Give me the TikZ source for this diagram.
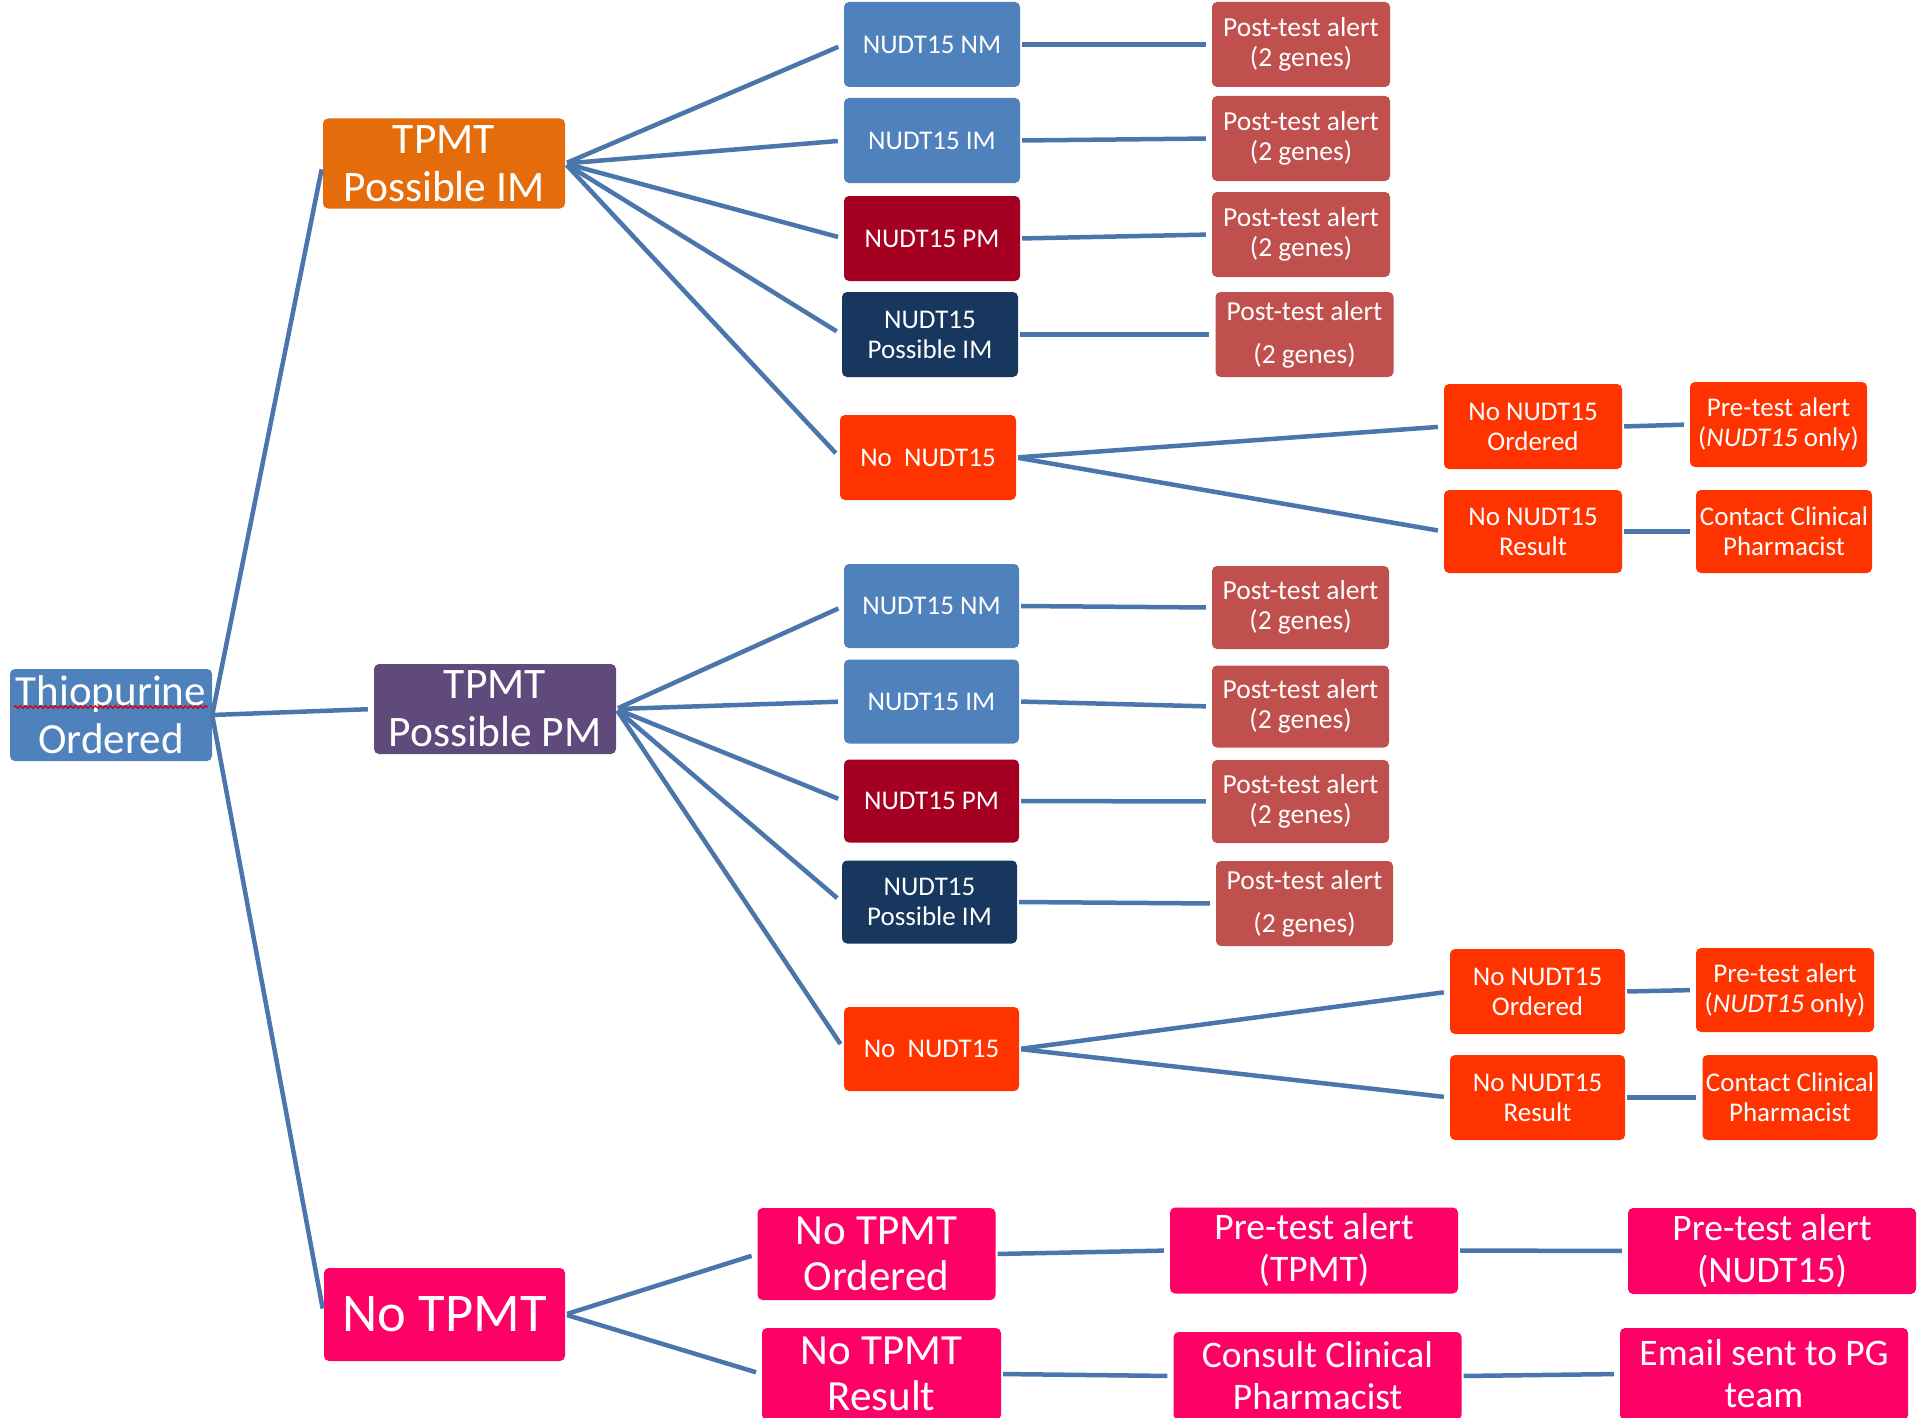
\documentclass[tikz,border=0pt]{standalone}
\usepackage{fontspec}
\setmainfont{Carlito}
\usetikzlibrary{decorations.pathmorphing}
\definecolor{cthio}{HTML}{4F81BD}
\definecolor{corange}{HTML}{E46C0A}
\definecolor{cpurple}{HTML}{604A7B}
\definecolor{cpink}{HTML}{FF0066}
\definecolor{cnavy}{HTML}{17375E}
\definecolor{cdred}{HTML}{A50021}
\definecolor{cro}{HTML}{FF3300}
\definecolor{cpost}{HTML}{C0504D}
\definecolor{clink}{HTML}{4A76AC}
\begin{document}
\begin{tikzpicture}[x=1pt,y=-1pt,
  box/.style={rectangle, rounded corners=5pt, text=white, inner sep=0pt, align=center},
  tpmtbox/.style={box, minimum width=242pt, minimum height=90pt, font=\fontsize{43.5}{48}\selectfont},
  nud/.style={box, minimum width=176pt, minimum height=85pt, font=\fontsize{27}{30}\selectfont},
  post/.style={box, fill=cpost, minimum width=178pt, minimum height=85pt, font=\fontsize{27.5}{30}\selectfont},
  postwide/.style={post, font=\fontsize{27.5}{43}\selectfont},
  orbox/.style={nud, fill=cro, minimum width=178pt},
  botl/.style={box, fill=cpink, minimum width=238pt, minimum height=92pt, font=\fontsize{43}{46}\selectfont},
  bot/.style={box, fill=cpink, minimum width=288pt, minimum height=86pt, font=\fontsize{37.5}{42}\selectfont},
  conn/.style={draw=clink, line width=4.5pt, shorten >=6pt, shorten <=2pt}
]
\fill[white] (0,0) rectangle (1921,1418);
\useasboundingbox (0,0) rectangle (1921,1418);

% root and first level
\node[box, fill=cthio, minimum width=202pt, minimum height=92pt, font=\fontsize{43}{48}\selectfont] (thio) at (111,715) {Thiopurine\\Ordered};
\node[tpmtbox, fill=corange] (tpmtIM) at (444,163.5) {TPMT\\Possible IM};
\node[tpmtbox, fill=cpurple] (tpmtPM) at (495,709) {TPMT\\Possible PM};
\node[box, fill=cpink, minimum width=241pt, minimum height=93pt, font=\fontsize{54.5}{56}\selectfont] (notpmt) at (444.5,1314.5) {No TPMT};

% spell-check squiggle
\draw[red!85!black, line width=1.3pt, decorate, decoration={snake, amplitude=1.2pt, segment length=5pt}] (14,707) -- (208,707);

% group 1 (TPMT possible IM)
\node[nud, fill=cthio] (n1nm) at (932,44.5) {NUDT15 NM};
\node[nud, fill=cthio] (n1im) at (932,140.5) {NUDT15 IM};
\node[nud, fill=cdred] (n1pm) at (932,238.5) {NUDT15 PM};
\node[nud, fill=cnavy] (n1pim) at (930,334.5) {NUDT15\\Possible IM};
\node[nud, fill=cro] (n1no) at (928,457.5) {No~~NUDT15};
\node[post] (p1a) at (1301,44.5) {Post-test alert\\(2 genes)};
\node[post] (p1b) at (1301,138.5) {Post-test alert\\(2 genes)};
\node[post] (p1c) at (1301,234.5) {Post-test alert\\(2 genes)};
\node[postwide] (p1d) at (1304.5,334.5) {Post-test alert\\(2 genes)};
\node[orbox] (o1a) at (1533,426.5) {No NUDT15\\Ordered};
\node[orbox, minimum width=177pt] (o1b) at (1778.5,424.5) {Pre-test alert\\(\textit{NUDT15} only)};
\node[orbox, minimum height=83pt] (r1a) at (1533,531.5) {No NUDT15\\Result};
\node[orbox, minimum width=176pt, minimum height=83pt] (r1b) at (1784,531.5) {Contact Clinical\\Pharmacist};

% group 2 (TPMT possible PM)
\node[nud, fill=cthio, minimum width=175pt, minimum height=84pt] (n2nm) at (931.5,606) {NUDT15 NM};
\node[nud, fill=cthio, minimum width=175pt, minimum height=84pt] (n2im) at (931.5,701.5) {NUDT15 IM};
\node[nud, fill=cdred, minimum width=175pt, minimum height=83pt] (n2pm) at (931.5,801) {NUDT15 PM};
\node[nud, fill=cnavy, minimum width=175pt, minimum height=83pt] (n2pim) at (929.5,902) {NUDT15\\Possible IM};
\node[nud, fill=cro, minimum width=175pt, minimum height=84pt] (n2no) at (931.5,1049) {No~~NUDT15};
\node[post, minimum width=177pt, minimum height=83pt] (p2a) at (1300.5,607.5) {Post-test alert\\(2 genes)};
\node[post, minimum width=177pt, minimum height=82pt] (p2b) at (1300.5,706.5) {Post-test alert\\(2 genes)};
\node[post, minimum width=177pt, minimum height=83pt] (p2c) at (1300.5,801.5) {Post-test alert\\(2 genes)};
\node[postwide, minimum width=177pt] (p2d) at (1304.5,903.5) {Post-test alert\\(2 genes)};
\node[orbox, minimum width=175pt] (o2a) at (1537.5,991.5) {No NUDT15\\Ordered};
\node[orbox, minimum width=178pt, minimum height=84pt] (o2b) at (1785,990) {Pre-test alert\\(\textit{NUDT15} only)};
\node[orbox, minimum width=175pt] (r2a) at (1537.5,1097.5) {No NUDT15\\Result};
\node[orbox, minimum width=175pt] (r2b) at (1790,1097.5) {Contact Clinical\\Pharmacist};

% group 3 (No TPMT)
\node[botl] (bo1) at (876.5,1254) {No TPMT\\Ordered};
\node[bot] (bo2) at (1314,1250.5) {Pre-test alert\\(TPMT)};
\node[bot] (bo3) at (1772,1251) {Pre-test alert\\(NUDT15)};
\node[botl, minimum width=239pt] (br1) at (881.5,1374) {No TPMT\\Result};
\node[bot, minimum height=88pt] (br2) at (1317.5,1376) {Consult Clinical\\Pharmacist};
\node[bot, minimum height=92pt] (br3) at (1764,1374) {Email sent to PG\\team};

% connectors
\draw[conn, shorten <=0pt] (thio.east) -- (tpmtIM.west);
\draw[conn, shorten <=0pt] (thio.east) -- (tpmtPM.west);
\draw[conn, shorten <=0pt] (thio.east) -- (notpmt.west);

\foreach \t in {n1nm,n1im,n1pm,n1pim,n1no} \draw[conn] (tpmtIM.east) -- (\t.west);
\draw[conn] (n1nm.east) -- (p1a.west);
\draw[conn] (n1im.east) -- (p1b.west);
\draw[conn] (n1pm.east) -- (p1c.west);
\draw[conn] (n1pim.east) -- (p1d.west);
\draw[conn] (n1no.east) -- (o1a.west);
\draw[conn] (n1no.east) -- (r1a.west);
\draw[conn] (o1a.east) -- (o1b.west);
\draw[conn] (r1a.east) -- (r1b.west);

\foreach \t in {n2nm,n2im,n2pm,n2pim,n2no} \draw[conn] (tpmtPM.east) -- (\t.west);
\draw[conn] (n2nm.east) -- (p2a.west);
\draw[conn] (n2im.east) -- (p2b.west);
\draw[conn] (n2pm.east) -- (p2c.west);
\draw[conn] (n2pim.east) -- (p2d.west);
\draw[conn] (n2no.east) -- (o2a.west);
\draw[conn] (n2no.east) -- (r2a.west);
\draw[conn] (o2a.east) -- (o2b.west);
\draw[conn] (r2a.east) -- (r2b.west);

\draw[conn] (notpmt.east) -- (bo1.west);
\draw[conn] (notpmt.east) -- (br1.west);
\draw[conn] (bo1.east) -- (bo2.west);
\draw[conn] (bo2.east) -- (bo3.west);
\draw[conn] (br1.east) -- (br2.west);
\draw[conn] (br2.east) -- (br3.west);
\end{tikzpicture}
\end{document}
